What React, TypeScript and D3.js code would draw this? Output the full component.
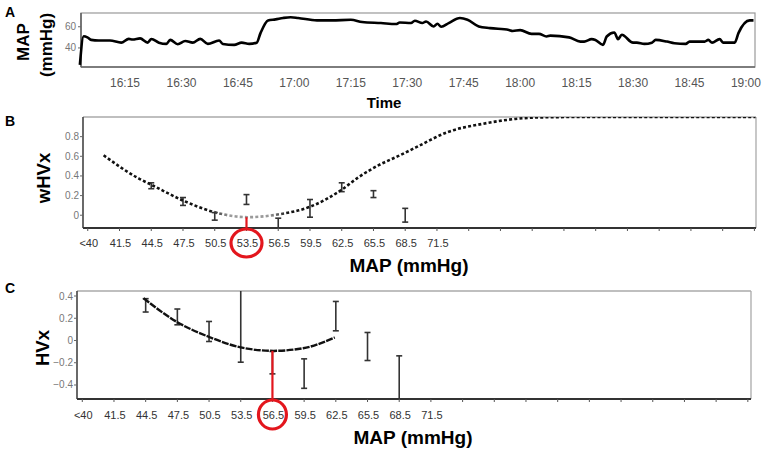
import React from 'react';
import * as d3 from 'd3';

// ---------- Panel A: MAP over time ----------
const mapTimes = [
  '16:03', '16:04', '16:05', '16:06', '16:08', '16:11', '16:14', '16:16', '16:17', '16:19',
  '16:21', '16:22', '16:24', '16:26', '16:27', '16:29', '16:31', '16:33', '16:35', '16:37',
  '16:40', '16:41', '16:44', '16:46', '16:48', '16:50', '16:51', '16:53', '16:55', '16:57',
  '16:59', '17:01', '17:06', '17:10', '17:15', '17:18', '17:23', '17:27', '17:28', '17:31',
  '17:32', '17:34', '17:35', '17:37', '17:38', '17:39', '17:41', '17:44', '17:46', '17:49',
  '17:52', '17:57', '17:58', '18:00', '18:03', '18:05', '18:07', '18:08', '18:13', '18:16',
  '18:17', '18:19', '18:20', '18:22', '18:23', '18:25', '18:26', '18:27', '18:30', '18:31',
  '18:33', '18:35', '18:36', '18:39', '18:41', '18:44', '18:45', '18:49', '18:50', '18:51',
  '18:53', '18:54', '18:57', '18:58', '19:01', '19:02',
];
const mapValues = [
  24, 51, 50, 47.6, 47, 47, 45, 48.6, 48, 49,
  45, 48.5, 45, 43.8, 47.6, 43.5, 46.5, 45, 48.6, 43.8,
  47, 43.8, 42.9, 45, 43.8, 45, 54, 66, 67, 68.3,
  69, 68.3, 66, 66, 66.6, 64.5, 63.5, 62.6, 64, 63.5,
  65.7, 63.5, 65, 60.3, 62.9, 60, 63.5, 68.3, 66.7, 60.3,
  58.7, 57, 56, 56.8, 53.3, 53.3, 50.8, 51.6, 50, 46,
  46, 48.3, 47.5, 42.9, 50.8, 54.6, 48.3, 52.4, 45, 45,
  43.8, 45, 47.6, 46, 44.4, 43.8, 46, 46, 47.6, 45,
  48.3, 45, 45, 54, 66, 66,
];
const timeTickLabels = ['16:15', '16:30', '16:45', '17:00', '17:15', '17:30', '17:45', '18:00', '18:15', '18:30', '18:45', '19:00'];
const mapYTicks = [40, 60];

// ---------- Shared x bins for B and C ----------
const binTicks = [38.5, 41.5, 44.5, 47.5, 50.5, 53.5, 56.5, 59.5, 62.5, 65.5, 68.5, 71.5,
  74.5, 77.5, 80.5, 83.5, 86.5, 89.5, 92.5, 95.5, 98.5, 101.5];
const binLabels = ['<40', '41.5', '44.5', '47.5', '50.5', '53.5', '56.5', '59.5', '62.5', '65.5', '68.5', '71.5'];

// ---------- Panel B: wHVx ----------
const wFitX = [40.0, 43.3, 44.7, 47.5, 50.5, 53.6, 56.6, 59.6, 62.5, 64, 66, 68, 69.5, 72.6, 75.8, 78.9, 81, 85, 101.6];
const wFitY = [0.61, 0.375, 0.30, 0.15, 0.03, -0.02, 0.01, 0.09, 0.26, 0.38, 0.51, 0.61, 0.69, 0.85, 0.93, 0.98, 0.995, 1.0, 1.0];
const wBins = [44.5, 47.5, 50.5, 53.5, 56.5, 59.5, 62.5, 65.5, 68.5];
const wLower = [0.27, 0.10, -0.05, 0.11, -0.2, -0.02, 0.24, 0.18, -0.07];
const wUpper = [0.33, 0.18, 0.027, 0.21, -0.03, 0.16, 0.33, 0.25, 0.07];
const wYTicks = [0, 0.2, 0.4, 0.6, 0.8];
const wOptimal = 53.5;
const wOptimalValue = -0.02;

// ---------- Panel C: HVx ----------
const hFitX = [44.3, 47.4, 50.4, 53.4, 56.6, 59.4, 62.4];
const hFitY = [0.38, 0.17, 0.036, -0.06, -0.093, -0.07, 0.027];
const hBins = [44.5, 47.5, 50.5, 53.5, 56.5, 59.5, 62.5, 65.5, 68.5];
const hLower = [0.256, 0.141, -0.009, -0.195, -0.30, -0.43, 0.087, -0.18, -0.70];
const hUpper = [0.376, 0.283, 0.171, 0.60, -0.099, -0.165, 0.351, 0.072, -0.138];
const hYTicks = [-0.4, -0.2, 0, 0.2, 0.4];
const hOptimal = 56.5;
const hOptimalValue = -0.093;

const FONT = 'Liberation Sans, Arial, Helvetica, sans-serif';
const RED = '#e3161d';

const parseHM = (s: string) => {
  const [h, m] = s.split(':').map(Number);
  return new Date(2020, 0, 1, h, m, 0);
};

const fmtY = (v: number) => (v === 0 ? '0' : d3.format('.1f')(v).replace(/^0/, '').replace(/^-0/, '-'));
const fmtYFull = (v: number) => (v === 0 ? '0' : d3.format('.1f')(v));

function PanelA() {
  const x = d3.scaleTime()
    .domain([new Date(2020, 0, 1, 16, 3, 18), new Date(2020, 0, 1, 19, 2, 24)])
    .range([81, 755]);
  const y = d3.scaleLinear().domain([22, 73]).range([67, 13]);
  const pts = mapTimes.map((t, i) => [parseHM(t), mapValues[i]] as [Date, number]);
  const line = d3.line<[Date, number]>().x((d) => x(d[0])).y((d) => y(d[1])).curve(d3.curveMonotoneX);
  const [x0, x1] = x.range();
  const [yb, yt] = y.range();
  return (
    <g>
      <text x={5} y={17} fontSize={14} fontWeight="bold" fontFamily={FONT}>A</text>
      <rect x={x0} y={yt} width={x1 - x0} height={yb - yt} fill="none" stroke="#999" strokeWidth={1.2} />
      <line x1={x0} x2={x0} y1={yt} y2={yb} stroke="#555" strokeWidth={1.4} />
      <line x1={x0} x2={x1} y1={yb} y2={yb} stroke="#666" strokeWidth={1.4} />
      {mapYTicks.map((v) => (
        <g key={v}>
          <line x1={x0 - 3} x2={x0} y1={y(v)} y2={y(v)} stroke="#666" />
          <text x={x0 - 5} y={y(v) + 3.5} fontSize={10} fill="#777" textAnchor="end" fontFamily={FONT}>{v}</text>
        </g>
      ))}
      {timeTickLabels.map((t) => (
        <text key={t} x={x(parseHM(t))} y={87} fontSize={12} fill="#555" textAnchor="middle" fontFamily={FONT}>{t}</text>
      ))}
      <path d={line(pts) || ''} fill="none" stroke="#000" strokeWidth={2.6} strokeLinejoin="round" />
      <text x={384} y={108} fontSize={15} fontWeight="bold" textAnchor="middle" fontFamily={FONT}>Time</text>
      <text transform="translate(28.5,42) rotate(-90)" fontSize={17} fontWeight="bold" textAnchor="middle" fontFamily={FONT}>MAP</text>
      <text transform="translate(52,45) rotate(-90)" fontSize={17} fontWeight="bold" textAnchor="middle" fontFamily={FONT}>(mmHg)</text>
    </g>
  );
}

type BinPanelProps = {
  id: string;
  label: string;
  labelY: number;
  yTitle: string;
  yTitleX: number;
  yTitleY: number;
  xRange: [number, number];
  xDomain: [number, number];
  yRange: [number, number];
  yDomain: [number, number];
  yTicks: number[];
  fitX: number[];
  fitY: number[];
  bins: number[];
  lower: number[];
  upper: number[];
  optimal: number;
  optimalValue: number;
  circleY: number;
  circleRx: number;
  circleRy: number;
  tickLabelY: number;
  titleX: number;
  titleY: number;
  dotted: boolean;
};

function BinPanel(p: BinPanelProps) {
  const x = d3.scaleLinear().domain(p.xDomain).range(p.xRange);
  const y = d3.scaleLinear().domain(p.yDomain).range(p.yRange);
  const [x0, x1] = p.xRange;
  const [yb, yt] = p.yRange;
  const fit = p.fitX.map((v, i) => [v, p.fitY[i]] as [number, number]);
  const line = d3.line<[number, number]>().x((d) => x(d[0])).y((d) => y(d[1])).curve(d3.curveMonotoneX);
  const clipId = `clip-${p.id}`;
  const gradId = `grad-${p.id}`;
  const capW = 3;
  return (
    <g>
      <defs>
        <clipPath id={clipId}>
          <rect x={x0} y={yt} width={x1 - x0} height={yb - yt} />
        </clipPath>
        <linearGradient id={gradId} gradientUnits="userSpaceOnUse" x1={x(50)} x2={x(57.5)} y1={0} y2={0}>
          <stop offset="0" stopColor="#111" />
          <stop offset="0.25" stopColor="#9a9a9a" />
          <stop offset="0.75" stopColor="#9a9a9a" />
          <stop offset="1" stopColor="#111" />
        </linearGradient>
      </defs>
      <text x={5} y={p.labelY} fontSize={14} fontWeight="bold" fontFamily={FONT}>{p.label}</text>
      <line x1={x0} x2={x1} y1={yt} y2={yt} stroke="#aaa" strokeWidth={1.3} />
      <line x1={x1} x2={x1} y1={yt} y2={yb} stroke="#aaa" strokeWidth={1.3} />
      <line x1={x0} x2={x0} y1={yt} y2={yb} stroke="#444" strokeWidth={1.6} />
      <line x1={x0} x2={x1} y1={yb} y2={yb} stroke="#333" strokeWidth={1.8} />
      {p.yTicks.map((v) => (
        <g key={v}>
          <line x1={x0 - 3} x2={x0} y1={y(v)} y2={y(v)} stroke="#666" />
          <text x={x0 - 4} y={y(v) + 3.5} fontSize={10} fill="#777" textAnchor="end" fontFamily={FONT}>{fmtYFull(v)}</text>
        </g>
      ))}
      {binTicks.map((v) => (
        <line key={v} x1={x(v)} x2={x(v)} y1={yb} y2={yb + 3} stroke="#555" />
      ))}
      {binLabels.map((l, i) => (
        <text key={l} x={x(binTicks[i]) + 1} y={p.tickLabelY} fontSize={11} fill="#333" textAnchor="middle" fontFamily={FONT}>{l}</text>
      ))}
      <g clipPath={`url(#${clipId})`}>
        {p.bins.map((b, i) => {
          const cx = x(b);
          const lo = y(p.lower[i]);
          const hi = y(p.upper[i]);
          return (
            <g key={b} stroke="#333" strokeWidth={1.6}>
              <line x1={cx} x2={cx} y1={lo} y2={hi} />
              <line x1={cx - capW} x2={cx + capW} y1={lo} y2={lo} />
              <line x1={cx - capW} x2={cx + capW} y1={hi} y2={hi} />
            </g>
          );
        })}
        <path
          d={line(fit) || ''}
          fill="none"
          stroke={p.dotted ? `url(#${gradId})` : '#111'}
          strokeWidth={p.dotted ? 2.6 : 2.4}
          strokeDasharray={p.dotted ? '3,2.2' : '7,1.2'}
        />
      </g>
      <line x1={x(p.optimal)} x2={x(p.optimal)} y1={y(p.optimalValue)} y2={yb} stroke={RED} strokeWidth={2.2} />
      <ellipse cx={x(p.optimal)} cy={p.circleY} rx={p.circleRx} ry={p.circleRy} fill="none" stroke={RED} strokeWidth={3.2} />
      <text transform={`translate(${p.yTitleX},${p.yTitleY}) rotate(-90)`} fontSize={18.5} fontWeight="bold" textAnchor="middle" fontFamily={FONT}>{p.yTitle}</text>
      <text x={p.titleX} y={p.titleY} fontSize={19} fontWeight="bold" textAnchor="middle" fontFamily={FONT}>MAP (mmHg)</text>
    </g>
  );
}

export default function App() {
  return (
    <svg width={767} height={450} style={{ position: 'absolute', left: 0, top: 0, background: '#fff' }}>
      <rect x={0} y={0} width={767} height={450} fill="#fff" />
      <PanelA />
      <BinPanel
        id="b" label="B" labelY={126} yTitle="wHVx" yTitleX={50} yTitleY={178}
        xRange={[83, 756]} xDomain={[38.05, 101.65]}
        yRange={[228, 117]} yDomain={[-0.13, 1.0]} yTicks={wYTicks}
        fitX={wFitX} fitY={wFitY} bins={wBins} lower={wLower} upper={wUpper}
        optimal={wOptimal} optimalValue={wOptimalValue}
        circleY={243} circleRx={15.5} circleRy={14}
        tickLabelY={247} titleX={409} titleY={272} dotted={true}
      />
      <BinPanel
        id="c" label="C" labelY={293} yTitle="HVx" yTitleX={49} yTitleY={348}
        xRange={[77, 751]} xDomain={[38.0, 101.8]}
        yRange={[399, 291]} yDomain={[-0.526, 0.445]} yTicks={hYTicks}
        fitX={hFitX} fitY={hFitY} bins={hBins} lower={hLower} upper={hUpper}
        optimal={hOptimal} optimalValue={hOptimalValue}
        circleY={414.5} circleRx={14} circleRy={14.5}
        tickLabelY={419} titleX={413} titleY={444} dotted={false}
      />
    </svg>
  );
}
